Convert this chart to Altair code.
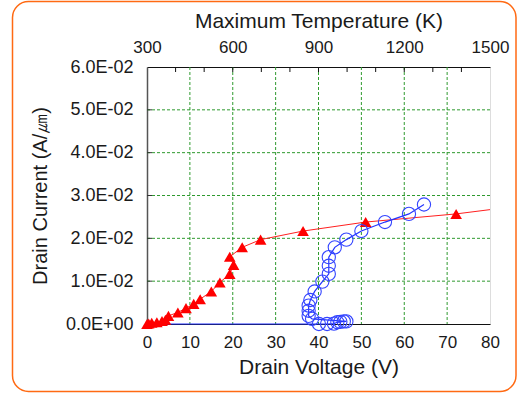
import altair as alt
import pandas as pd

# ---- data ----
red_v = [0.0, 0.4, 1.1, 2.3, 3.5, 4.3, 5.0, 7.2, 9.1, 10.9, 12.4, 15.0, 17.0,
         19.3, 20.2, 19.3, 22.2, 26.5, 36.4, 51.0, 72.1]
red_i = [0.0, 0.0001, 0.0003, 0.0004, 0.0007, 0.0010, 0.0019, 0.0027, 0.0037,
         0.0047, 0.0058, 0.0076, 0.0097, 0.0117, 0.0138, 0.0157, 0.0179,
         0.0197, 0.0217, 0.0238, 0.0257]
red_line_end_v = [80.0]
red_line_end_i = [0.0267]

blue_v = [40.1, 42.0, 43.6, 44.4, 45.1, 45.9, 46.5, 38.5, 37.7, 37.7, 37.7,
          38.1, 39.1, 40.9, 42.4, 42.4, 42.4, 43.8, 46.5, 50.0, 55.5, 61.1, 64.6]
blue_i = [0.0, 0.0, 0.0001, 0.0004, 0.0005, 0.0006, 0.0006, 0.0012, 0.0019,
          0.0031, 0.0043, 0.0056, 0.0076, 0.0099, 0.0117, 0.0136, 0.0156,
          0.0179, 0.0197, 0.0217, 0.0238, 0.0257, 0.0279]
blue_line_start_v = [0.0]
blue_line_start_i = [0.0]

x_ticks = [0, 10, 20, 30, 40, 50, 60, 70, 80]
y_ticks = [0, 0.01, 0.02, 0.03, 0.04, 0.05, 0.06]
grid_v = [10, 20, 30, 40, 50, 60, 70]
grid_i = [0.01, 0.02, 0.03, 0.04, 0.05]
temp_labels = [300, 600, 900, 1200, 1500]
temp_minor = [400, 500, 600, 700, 800, 900, 1000, 1100, 1200, 1300, 1400]

FONT = "Liberation Sans"
GRID = "#2f9a2f"
TXT = "#1a1a1a"

df_red = pd.DataFrame({"v": red_v, "i": red_i})
rl_v = red_v + red_line_end_v
rl_i = red_i + red_line_end_i
df_red_line = pd.DataFrame({"v": rl_v, "i": rl_i, "o": list(range(len(rl_v)))})
df_blue = pd.DataFrame({"v": blue_v, "i": blue_i})
bl_v = blue_line_start_v + blue_v
bl_i = blue_line_start_i + blue_i
df_blue_line = pd.DataFrame({"v": bl_v, "i": bl_i, "o": list(range(len(bl_v)))})
df_gv = pd.DataFrame({"v": grid_v})
df_gi = pd.DataFrame({"i": grid_i})
df_tm = pd.DataFrame({"t": temp_minor})

xs = alt.Scale(domain=[0, 80], nice=False, zero=False)
ys = alt.Scale(domain=[0, 0.06], nice=False)
ts = alt.Scale(domain=[300, 1500], nice=False, zero=False)

common = dict(labelFont=FONT, titleFont=FONT, labelColor=TXT, titleColor=TXT,
              titleFontWeight="normal", labelFlush=False, grid=False, ticks=False)

x_axis = alt.Axis(title="Drain Voltage (V)", values=x_ticks, titleFontSize=21, labelFontSize=17,
                  domainColor="#111111", domainWidth=1, labelPadding=10, titlePadding=6,
                  format="d", **common)
y_axis = alt.Axis(title="Drain Current (A/㎛)", values=y_ticks, titleFontSize=20, labelFontSize=18,
                  domainColor="#555555", domainWidth=1.5, labelPadding=14, titlePadding=15,
                  labelExpr="datum.value == 0 ? '0.0E+00' : format(datum.value*100, '.1f') + 'E-02'",
                  **common)

vgrid = alt.Chart(df_gv).mark_rule(color=GRID, strokeWidth=1, strokeDash=[3, 2]).encode(
    x=alt.X("v:Q", scale=xs, axis=x_axis),
    y=alt.value(0), y2=alt.value(257))
hgrid = alt.Chart(df_gi).mark_rule(color=GRID, strokeWidth=1, strokeDash=[3, 2]).encode(
    y=alt.Y("i:Q", scale=ys, axis=y_axis),
    x=alt.value(0), x2=alt.value(343))
lticks = alt.Chart(df_gi).mark_rule(color="#333333", strokeWidth=1).encode(
    y=alt.Y("i:Q", scale=ys), x=alt.value(0), x2=alt.value(5))

red_line = alt.Chart(df_red_line).mark_line(color="#ff2020", strokeWidth=1).encode(
    x=alt.X("v:Q", scale=xs), y=alt.Y("i:Q", scale=ys), order="o:Q")
blue_line = alt.Chart(df_blue_line).mark_line(color="#2233ff", strokeWidth=1.2).encode(
    x=alt.X("v:Q", scale=xs), y=alt.Y("i:Q", scale=ys), order="o:Q")
red_pts = alt.Chart(df_red).mark_point(shape="triangle-up", filled=True, size=135,
                                       color="#ff0000", opacity=1).encode(
    x=alt.X("v:Q", scale=xs), y=alt.Y("i:Q", scale=ys))
blue_pts = alt.Chart(df_blue).mark_point(shape="circle", filled=False, size=175,
                                         color="#3344ff", strokeWidth=1.1, opacity=1).encode(
    x=alt.X("v:Q", scale=xs), y=alt.Y("i:Q", scale=ys))

top_axis = alt.Axis(title="Maximum Temperature (K)", orient="top", values=temp_labels,
                    titleFontSize=21, labelFontSize=17, domainColor="#111111", domainWidth=1,
                    format="d", labelPadding=11, titlePadding=7, **common)
top_ticks = alt.Chart(df_tm).mark_rule(color="#111111", strokeWidth=1).encode(
    x=alt.X("t:Q", scale=ts, axis=top_axis),
    y=alt.value(0), y2=alt.value(5))

border = alt.Chart(pd.DataFrame({"a": [1]})).mark_rect(
    fillOpacity=0, stroke="#ff6a13", strokeWidth=1.5, cornerRadius=16).encode(
    x=alt.value(-134.5), x2=alt.value(369), y=alt.value(-65.5), y2=alt.value(324.5))

main = alt.layer(vgrid, hgrid, lticks, red_line, blue_line, red_pts, blue_pts)

chart = alt.layer(main, top_ticks, border).resolve_scale(x="independent").properties(
    width=343, height=257,
    autosize=alt.AutoSizeParams(type="none"),
    padding={"left": 147, "top": 67, "right": 28, "bottom": 70},
).configure_view(stroke="#8a8a8a", strokeWidth=1).configure(background="white")

chart.save("out.html", embed_options={"renderer": "svg", "actions": False})
